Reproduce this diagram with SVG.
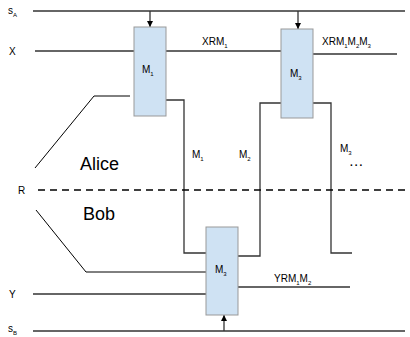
<svg xmlns="http://www.w3.org/2000/svg" width="410" height="337" viewBox="0 0 410 337">
<defs>
<marker id="ah" viewBox="0 0 10 10" refX="10" refY="5" markerWidth="6" markerHeight="6" markerUnits="userSpaceOnUse" orient="auto"><path d="M0,0 L10,5 L0,10 z" fill="#000"/></marker>
</defs>
<style>
.box{fill:#cfe2f3;stroke:#999;stroke-width:1}
.ln{fill:none;stroke:#333;stroke-width:1.3}
.thin{fill:none;stroke:#000;stroke-width:1}
.dash{fill:none;stroke:#000;stroke-width:1.3;stroke-dasharray:7 5}
text{font-family:"Liberation Sans",Arial,sans-serif;fill:#000}
.lb{font-size:10px}
.big{font-size:18px}
.sub{font-size:6px}
</style>
<rect width="410" height="337" fill="#fff"/>
<g id="connectors">
<line class="ln" x1="33" y1="11" x2="405" y2="11"/>
<line class="ln" x1="150" y1="11" x2="150" y2="27" marker-end="url(#ah)"/>
<line class="ln" x1="298" y1="11" x2="298" y2="29" marker-end="url(#ah)"/>
<line class="ln" x1="35" y1="51" x2="134" y2="51"/>
<line class="ln" x1="166" y1="51" x2="281" y2="51"/>
<line class="ln" x1="313" y1="54" x2="397" y2="54"/>
<polyline class="ln" points="166,100 184,100 184,253 206,253"/>
<polyline class="ln" points="238,256 260,256 260,103 281,103"/>
<polyline class="ln" points="313,103 331,103 331,253 352,253"/>
<polyline class="thin" points="35,168 94,96 130,96"/>
<polyline class="thin" points="36,210 86,272 206,272"/>
<line class="dash" x1="38" y1="190" x2="405" y2="190"/>
<line class="ln" x1="33" y1="294" x2="206" y2="294"/>
<line class="ln" x1="238" y1="287" x2="350" y2="287"/>
<line class="ln" x1="33" y1="331" x2="405" y2="331"/>
<line class="ln" x1="224" y1="331" x2="224" y2="315" marker-end="url(#ah)"/>
<text class="lb" x="202" y="45">XRM<tspan class="sub" dy="3">1</tspan></text>
<text class="lb" x="322" y="45">XRM<tspan class="sub" dy="3">1</tspan><tspan dy="-3">M</tspan><tspan class="sub" dy="3">2</tspan><tspan dy="-3">M</tspan><tspan class="sub" dy="3">3</tspan></text>
<text class="lb" x="192" y="158">M<tspan class="sub" dy="3">1</tspan></text>
<text class="lb" x="239" y="158">M<tspan class="sub" dy="3">2</tspan></text>
<text class="lb" x="340" y="152">M<tspan class="sub" dy="3">3</tspan></text>
<text x="350" y="166" font-size="10" font-weight="bold" letter-spacing="2">...</text>
<text class="lb" x="274" y="282">YRM<tspan class="sub" dy="3">1</tspan><tspan dy="-3">M</tspan><tspan class="sub" dy="3">2</tspan></text>
</g>
<g id="sA"><text class="lb" x="8" y="14">s<tspan class="sub" dy="3">A</tspan></text></g>
<g id="X"><text class="lb" x="9" y="55">X</text></g>
<g id="R"><text class="lb" x="18" y="194">R</text></g>
<g id="Y"><text class="lb" x="9" y="298">Y</text></g>
<g id="sB"><text class="lb" x="8" y="332">s<tspan class="sub" dy="3">B</tspan></text></g>
<g id="alice"><text class="big" x="80" y="170">Alice</text></g>
<g id="bob"><text class="big" x="83" y="220">Bob</text></g>
<g id="M1"><rect class="box" x="134" y="27" width="32" height="89"/><text class="lb" x="142" y="73">M<tspan class="sub" dy="3">1</tspan></text></g>
<g id="M3top"><rect class="box" x="281" y="29" width="32" height="89"/><text class="lb" x="290" y="77">M<tspan class="sub" dy="3">3</tspan></text></g>
<g id="M3bottom"><rect class="box" x="206" y="227" width="32" height="88"/><text class="lb" x="215" y="273">M<tspan class="sub" dy="3">3</tspan></text></g>
</svg>
